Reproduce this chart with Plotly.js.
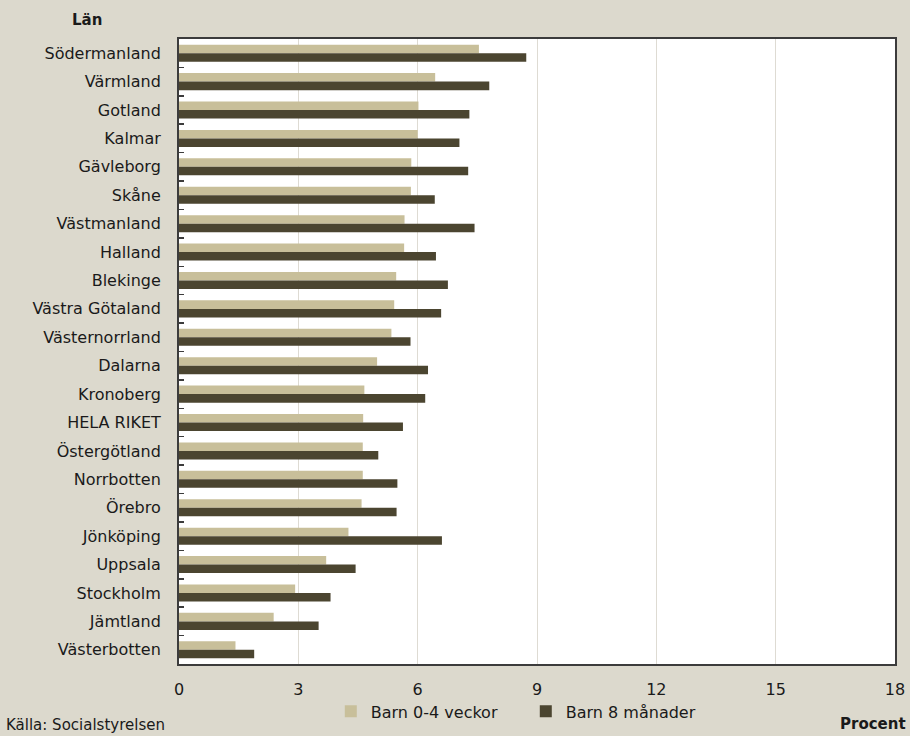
<!DOCTYPE html>
<html>
<head>
<meta charset="utf-8">
<script src="https://cdn.plot.ly/plotly-3.0.1.min.js"></script>
<style>html,body{margin:0;padding:0;background:#dcd9cd;}#chart{width:910px;height:736px;}</style>
</head>
<body>
<div id="chart"></div>
<script>
var categories = ["Södermanland","Värmland","Gotland","Kalmar","Gävleborg","Skåne","Västmanland","Halland","Blekinge","Västra Götaland","Västernorrland","Dalarna","Kronoberg","HELA RIKET","Östergötland","Norrbotten","Örebro","Jönköping","Uppsala","Stockholm","Jämtland","Västerbotten"];
var barn04veckor = [7.54,6.44,6.02,6.0,5.84,5.83,5.67,5.66,5.46,5.41,5.34,4.98,4.66,4.63,4.62,4.62,4.59,4.26,3.70,2.92,2.38,1.42];
var barn8manader = [8.73,7.80,7.30,7.05,7.27,6.43,7.43,6.46,6.76,6.59,5.82,6.26,6.19,5.63,5.01,5.49,5.47,6.61,4.44,3.81,3.51,1.89];
var seriesNames = ["Barn 0-4 veckor","Barn 8 månader"];
var xTicks = [0,3,6,9,12,15,18];

var font = "'DejaVu Sans', sans-serif";
var traces = [
  {type:"bar", orientation:"h", name:seriesNames[0], y:categories, x:barn04veckor, marker:{color:"#c8bf9a"}, hoverinfo:"x+y"},
  {type:"bar", orientation:"h", name:seriesNames[1], y:categories, x:barn8manader, marker:{color:"#4b4530"}, hoverinfo:"x+y"}
];
var layout = {
  width:910, height:736,
  paper_bgcolor:"#dcd9cd", plot_bgcolor:"#ffffff",
  margin:{l:179, r:15, t:39, b:72, pad:0},
  barmode:"group", bargap:0.4, bargroupgap:0,
  font:{family:font, size:16, color:"#1a1a1a"},
  showlegend:true,
  legend:{orientation:"h", x:0.212, xanchor:"left", yref:"container", y:0.0565, yanchor:"top", font:{size:16, color:"#1a1a1a"}, bgcolor:"rgba(0,0,0,0)", itemwidth:30, entrywidth:150, tracegroupgap:0},
  xaxis:{range:[0,18], tickvals:xTicks, ticktext:xTicks.map(String), showgrid:true, gridcolor:"#dedbd3", gridwidth:1, zeroline:false,
         showline:true, linecolor:"#3c3c3c", linewidth:2, mirror:true, ticks:"", tickfont:{size:16}, ticklabelstandoff:10, fixedrange:true},
  yaxis:{type:"category", categoryorder:"array", categoryarray:categories, autorange:"reversed", showgrid:false, zeroline:false,
         showline:true, linecolor:"#3c3c3c", linewidth:2, mirror:true, ticks:"inside", tickson:"boundaries", ticklen:5, tickcolor:"#3c3c3c", tickwidth:1.5,
         tickfont:{size:16}, ticklabelstandoff:13, fixedrange:true},
  annotations:[
    {text:"<b>Län</b>", xref:"paper", yref:"paper", x:-0.128, y:1.0, xanchor:"center", yanchor:"bottom", yshift:8, showarrow:false, font:{size:15, color:"#1a1a1a"}},
    {text:"<b>Procent</b>", xref:"paper", yref:"paper", x:1.0, y:-0.079, xanchor:"right", yanchor:"top", xshift:13, showarrow:false, font:{size:15, color:"#1a1a1a"}},
    {text:"Källa: Socialstyrelsen", xref:"paper", yref:"paper", x:-0.245, y:-0.08, xanchor:"left", yanchor:"top", showarrow:false, font:{size:15, color:"#1a1a1a"}}
  ]
};
Plotly.newPlot("chart", traces, layout, {displayModeBar:false, staticPlot:true});
</script>
</body>
</html>
